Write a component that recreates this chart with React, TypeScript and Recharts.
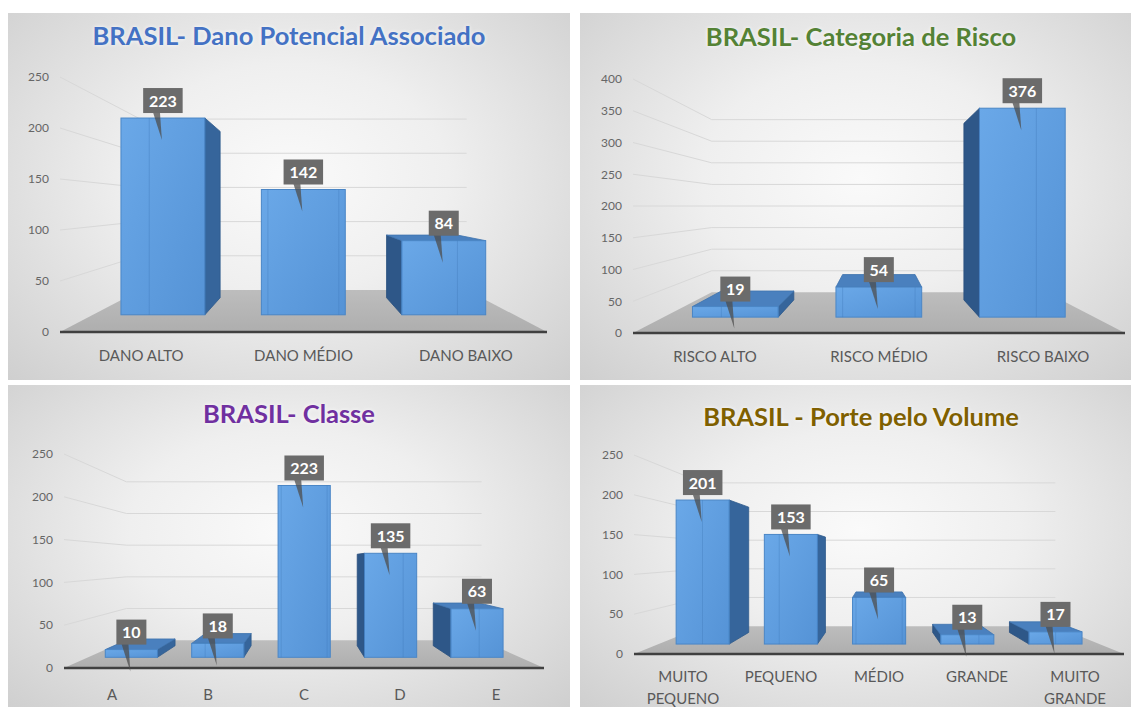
import React from 'react';
import { BarChart, Bar, XAxis, YAxis, ReferenceArea, LabelList } from 'recharts';

const danoCategorias = ['DANO ALTO', 'DANO MÉDIO', 'DANO BAIXO'];
const danoValores = [223, 142, 84];
const danoTicks = [0, 50, 100, 150, 200, 250];

const riscoCategorias = ['RISCO ALTO', 'RISCO MÉDIO', 'RISCO BAIXO'];
const riscoValores = [19, 54, 376];
const riscoTicks = [0, 50, 100, 150, 200, 250, 300, 350, 400];

const classeCategorias = ['A', 'B', 'C', 'D', 'E'];
const classeValores = [10, 18, 223, 135, 63];
const classeTicks = [0, 50, 100, 150, 200, 250];

const porteCategorias = ['MUITO PEQUENO', 'PEQUENO', 'MÉDIO', 'GRANDE', 'MUITO GRANDE'];
const porteValores = [201, 153, 65, 13, 17];
const porteTicks = [0, 50, 100, 150, 200, 250];

const FONT = 'Lato, "Open Sans", sans-serif';

// projeção simples em perspectiva em torno do centro da área do gráfico
const proj = (vx: number, vy: number, k: number, px: number, py: number) => [vx + (px - vx) * k, vy + (py - vy) * k];

function Box3D(props: any) {
  const { x, y, width, height, vx, vy, kf, kb, uid } = props;
  if (width == null || height == null) return null;
  const xl = x, xr = x + width, yt = y, yb = y + height;
  const [fxl, fyt] = proj(vx, vy, kf, xl, yt);
  const [fxr, fyb] = proj(vx, vy, kf, xr, yb);
  const [bxl, byt] = proj(vx, vy, kb, xl, yt);
  const [bxr, byb] = proj(vx, vy, kb, xr, yb);
  const faces: any[] = [];
  if (fxr < vx) {
    faces.push(<polygon key="sr" points={`${fxr},${fyt} ${bxr},${byt} ${bxr},${byb} ${fxr},${fyb}`} fill="#36659b" stroke="#2f5b8c" strokeWidth={0.8} />);
  }
  if (fxl > vx) {
    faces.push(<polygon key="sl" points={`${fxl},${fyt} ${bxl},${byt} ${bxl},${byb} ${fxl},${fyb}`} fill="#2e5788" stroke="#284f7d" strokeWidth={0.8} />);
  }
  if (fyt > vy) {
    faces.push(<polygon key="tp" points={`${fxl},${fyt} ${fxr},${fyt} ${bxr},${byt} ${bxl},${byt}`} fill="#4a80be" stroke="#3d72ad" strokeWidth={0.8} />);
  }
  return (
    <g>
      {faces}
      <rect x={fxl} y={fyt} width={fxr - fxl} height={fyb - fyt} fill={`url(#frente-${uid})`} stroke="#4a86c6" strokeWidth={1} />
      <line x1={Math.max(bxl, fxl)} x2={Math.max(bxl, fxl)} y1={fyt} y2={fyb} stroke="#3f78b8" strokeOpacity={0.35} />
      <line x1={Math.min(bxr, fxr)} x2={Math.min(bxr, fxr)} y1={fyt} y2={fyb} stroke="#3f78b8" strokeOpacity={0.35} />
    </g>
  );
}

function Callout(props: any) {
  const { x, y, width, value, vx, vy, kf } = props;
  if (x == null || value == null) return null;
  const [cx, top] = proj(vx, vy, kf, x + width / 2, y);
  const txt = String(value);
  const bw = 11 + txt.length * 9.5;
  const bh = 25;
  const bb = top - 5;
  return (
    <g>
      <polygon points={`${cx - 10},${bb - 1} ${cx - 3},${bb - 1} ${cx - 1},${top + 22}`} fill="#4e4e4e" fillOpacity={0.75} />
      <rect x={cx - bw / 2} y={bb - bh} width={bw} height={bh} fill="#6b6b6b" />
      <text x={cx} y={bb - bh / 2 + 6} textAnchor="middle" fill="#ffffff" fontSize={16} fontWeight="bold" fontFamily={FONT}>
        {txt}
      </text>
    </g>
  );
}

function Walls(props: any) {
  const { x, y, width, height, ticks, wall, uid } = props;
  if (x == null) return null;
  const left = x, right = x + width, top = y, bottom = y + height;
  const vx = (left + right) / 2, vy = (top + bottom) / 2;
  const max = ticks[ticks.length - 1];
  const [blx, bly] = proj(vx, vy, wall, left, bottom);
  const [brx] = proj(vx, vy, wall, right, bottom);
  return (
    <g>
      <defs>
        <linearGradient id={`frente-${uid}`} x1="0" y1="0" x2="1" y2="1">
          <stop offset="0%" stopColor="#6aa8e8" />
          <stop offset="100%" stopColor="#5593d6" />
        </linearGradient>
        <linearGradient id={`piso-${uid}`} x1="0" y1="0" x2="0" y2="1">
          <stop offset="0%" stopColor="#bdbdbd" />
          <stop offset="100%" stopColor="#aeaeae" />
        </linearGradient>
      </defs>
      {ticks.filter((t: number) => t > 0).map((t: number) => {
        const py = bottom - (t / max) * height;
        const [ax, ay] = proj(vx, vy, wall, left, py);
        const [bx] = proj(vx, vy, wall, right, py);
        return (
          <g key={t}>
            <line x1={left} y1={py} x2={ax} y2={ay} stroke="#d8d8d8" strokeWidth={1} />
            <line x1={ax} y1={ay} x2={bx} y2={ay} stroke="#d8d8d8" strokeWidth={1} />
          </g>
        );
      })}
      <polygon points={`${left},${bottom} ${right},${bottom} ${brx},${bly} ${blx},${bly}`} fill={`url(#piso-${uid})`} />
    </g>
  );
}

function CatTick(props: any) {
  const { x, y, payload, wrap, dyFirst } = props;
  const label = String(payload.value);
  const lines = wrap ? label.split(' ') : [label];
  return (
    <text x={x} y={y} textAnchor="middle" fill="#595959" fontSize={15} fontFamily={FONT}>
      {lines.map((l, i) => (
        <tspan key={i} x={x} dy={i === 0 ? dyFirst : 22}>{l}</tspan>
      ))}
    </text>
  );
}

function Painel(props: any) {
  const { uid, title, color, left, top, w, h, titleTop, cats, vals, ticks, plot, kf, ratio, wall, wrap, catDy } = props;
  const data = cats.map((c: string, i: number) => ({ categoria: c, valor: vals[i] }));
  const pl = plot.left, pr = w - plot.right, pt = plot.top, pb = h - plot.bottom;
  const vx = (pl + pr) / 2, vy = (pt + pb) / 2;
  const kb = kf * ratio;
  const max = ticks[ticks.length - 1];
  return (
    <div
      style={{
        position: 'absolute', left, top, width: w, height: h,
        background: 'radial-gradient(ellipse at 50% 45%, #fafafa 0%, #efefef 40%, #cfcfcf 100%)',
      }}
    >
      <div
        style={{
          position: 'absolute', left: 0, top: titleTop, width: w, textAlign: 'center',
          fontFamily: FONT, fontWeight: 'bold', fontSize: 25.5, lineHeight: '24px', color,
          textShadow: '0 0 4px rgba(255,255,255,0.9)',
        }}
      >
        {title}
      </div>
      <div style={{ position: 'absolute', left: 0, top: 0 }}>
        <BarChart width={w} height={h} data={data} margin={{ top: plot.top, right: plot.right, left: 0, bottom: 0 }} barCategoryGap="20%">
          <XAxis
            dataKey="categoria"
            height={plot.bottom}
            interval={0}
            tickLine={false}
            tickSize={0}
            tickMargin={0}
            axisLine={{ stroke: '#404040', strokeWidth: 2.5 }}
            tick={<CatTick wrap={wrap} dyFirst={catDy} />}
          />
          <YAxis
            width={plot.left}
            domain={[0, max]}
            ticks={ticks}
            interval={0}
            tickLine={false}
            axisLine={false}
            tickSize={0}
            tickMargin={11}
            tick={{ fill: '#666666', fontSize: 12, fontFamily: FONT }}
          />
          <ReferenceArea y1={0} y2={max} shape={(p: any) => <Walls {...p} ticks={ticks} wall={wall} uid={uid} />} />
          <Bar
            dataKey="valor"
            isAnimationActive={false}
            shape={(p: any) => <Box3D {...p} vx={vx} vy={vy} kf={kf} kb={kb} uid={uid} />}
          >
            <LabelList dataKey="valor" content={(p: any) => <Callout {...p} vx={vx} vy={vy} kf={kf} />} />
          </Bar>
        </BarChart>
      </div>
    </div>
  );
}

export default function App() {
  return (
    <div style={{ position: 'absolute', left: 0, top: 0, width: 1131, height: 707, overflow: 'hidden', background: '#ffffff' }}>
      <Painel
        uid="dano" title="BRASIL- Dano Potencial Associado" color="#4472c4"
        left={8} top={13} w={562} h={367} titleTop={10}
        cats={danoCategorias} vals={danoValores} ticks={danoTicks}
        plot={{ left: 52, right: 23, top: 64, bottom: 48 }}
        kf={0.865} ratio={0.845} wall={0.67} wrap={false} catDy={29}
      />
      <Painel
        uid="risco" title="BRASIL- Categoria de Risco" color="#548235"
        left={580} top={13} w={562} h={367} titleTop={11}
        cats={riscoCategorias} vals={riscoValores} ticks={riscoTicks}
        plot={{ left: 53, right: 17, top: 66, bottom: 47 }}
        kf={0.875} ratio={0.845} wall={0.68} wrap={false} catDy={29}
      />
      <Painel
        uid="classe" title="BRASIL- Classe" color="#7030a0"
        left={8} top={385} w={562} h={322} titleTop={16}
        cats={classeCategorias} vals={classeValores} ticks={classeTicks}
        plot={{ left: 56, right: 26, top: 69, bottom: 39 }}
        kf={0.9} ratio={0.88} wall={0.74} wrap={false} catDy={32}
      />
      <Painel
        uid="porte" title="BRASIL - Porte pelo Volume" color="#7f6000"
        left={580} top={385} w={562} h={322} titleTop={19}
        cats={porteCategorias} vals={porteValores} ticks={porteTicks}
        plot={{ left: 54, right: 18, top: 70, bottom: 53 }}
        kf={0.9} ratio={0.87} wall={0.72} wrap={true} catDy={28}
      />
    </div>
  );
}
